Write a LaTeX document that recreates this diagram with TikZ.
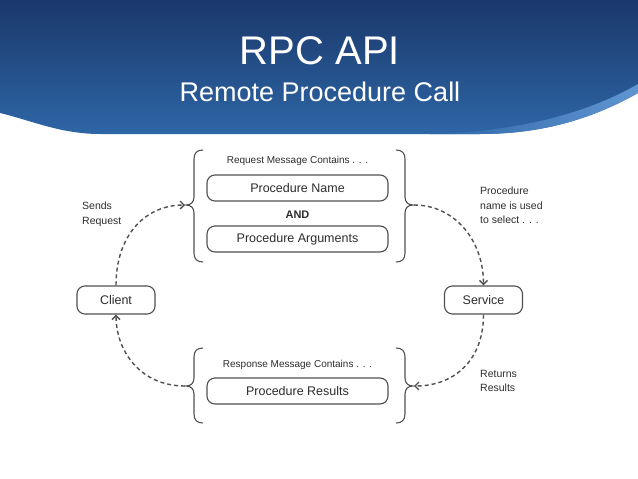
\documentclass[tikz,border=0pt]{standalone}
\usepackage{fontspec}
\setmainfont{Liberation Sans}
\usetikzlibrary{arrows.meta}
\definecolor{navy}{RGB}{26,56,106}
\definecolor{midblue}{RGB}{46,102,166}
\definecolor{lightband}{RGB}{95,150,210}
\definecolor{ink}{RGB}{80,80,80}
\definecolor{txt}{RGB}{45,45,45}
\begin{document}
\begin{tikzpicture}[x=1pt,y=-1pt,
  box/.style={draw=ink, line width=1.1pt, rounded corners=8pt, minimum width=181pt, minimum height=26pt, text=txt, font=\fontsize{12.5}{14}\selectfont, inner sep=0pt},
  endbox/.style={box, minimum width=78pt, minimum height=28pt},
  lbl/.style={text=txt, font=\fontsize{10.5}{14.5}\selectfont, align=left, anchor=north west, inner sep=0pt},
  capt/.style={text=txt, font=\fontsize{10}{12}\selectfont, inner sep=0pt},
  bracepath/.style={draw=ink, line width=1.1pt},
  flow/.style={draw=ink, line width=1.4pt, dash pattern=on 4pt off 3pt, -{Straight Barb[length=4pt,width=8pt]}}
]
\useasboundingbox (0,0) rectangle (638,479);
\fill[white] (0,0) rectangle (638,479);
% header
\shade[top color=navy, bottom color=midblue] (0,0) -- (638,0) -- (638,93) .. controls (590,120) and (540,134) .. (480,134) -- (100,134) .. controls (60,134) and (30,120) .. (0,113) -- cycle;
\shade[left color=midblue, right color=lightband] (430,134) .. controls (520,132) and (590,112) .. (638,84) -- (638,93) .. controls (590,120) and (540,134) .. (480,134) -- cycle;
\node[white, font=\fontsize{40}{44}\selectfont, anchor=base, inner sep=0pt] (title) at (320,64) {RPC API};
\node[white, font=\fontsize{27}{30}\selectfont, anchor=base, inner sep=0pt] (subtitle) at (320,101) {Remote Procedure Call};
% request group
\node[capt] (reqcap) at (297.5,161) {Request Message Contains . . .};
\node[box] (pname) at (297.5,188) {Procedure Name};
\node[capt, font=\bfseries\fontsize{11}{12}\selectfont] (and) at (297.5,215) {AND};
\node[box] (pargs) at (297.5,239) {Procedure Arguments};
% response group
\node[capt] (rescap) at (297.5,365) {Response Message Contains . . .};
\node[box] (pres) at (297.5,391) {Procedure Results};
% ends
\node[endbox] (client) at (116,300) {Client};
\node[endbox] (service) at (483.5,300) {Service};
% braces
\draw[bracepath] (203,150) .. controls (197,150) and (194,153) .. (194,159) -- (194,197) .. controls (194,202) and (191,205) .. (186,205) .. controls (191,205) and (194,208) .. (194,213) -- (194,253) .. controls (194,259) and (197,262) .. (203,262);
\draw[bracepath] (396,150) .. controls (402,150) and (405,153) .. (405,159) -- (405,197) .. controls (405,202) and (408,205) .. (413,205) .. controls (408,205) and (405,208) .. (405,213) -- (405,253) .. controls (405,259) and (402,262) .. (396,262);
\draw[bracepath] (203,348) .. controls (197,348) and (194,351) .. (194,357) -- (194,378) .. controls (194,383) and (191,386) .. (186,386) .. controls (191,386) and (194,389) .. (194,394) -- (194,414) .. controls (194,420) and (197,423) .. (203,423);
\draw[bracepath] (396,348) .. controls (402,348) and (405,351) .. (405,357) -- (405,378) .. controls (405,383) and (408,386) .. (413,386) .. controls (408,386) and (405,389) .. (405,394) -- (405,414) .. controls (405,420) and (402,423) .. (396,423);
\coordinate (reqL) at (185,205);
\coordinate (reqR) at (414,205);
\coordinate (resL) at (185,386);
\coordinate (resR) at (414,386);
% flows
\draw[flow] (client.north) .. controls +(0,-50) and +(-40,0) .. (reqL);
\draw[flow] (reqR) .. controls +(40,0) and +(0,-46) .. (service.north);
\draw[flow] (service.south) .. controls +(0,46) and +(40,0) .. (resR);
\draw[flow] (resL) .. controls +(-45,0) and +(0,36) .. (client.south);
% labels
\node[lbl] (sends) at (82,202) {Sends\\Request};
\node[lbl] (select) at (480,187) {Procedure\\name is used\\to select . . .};
\node[lbl] (returns) at (480,370) {Returns\\Results};
\end{tikzpicture}
\end{document}
